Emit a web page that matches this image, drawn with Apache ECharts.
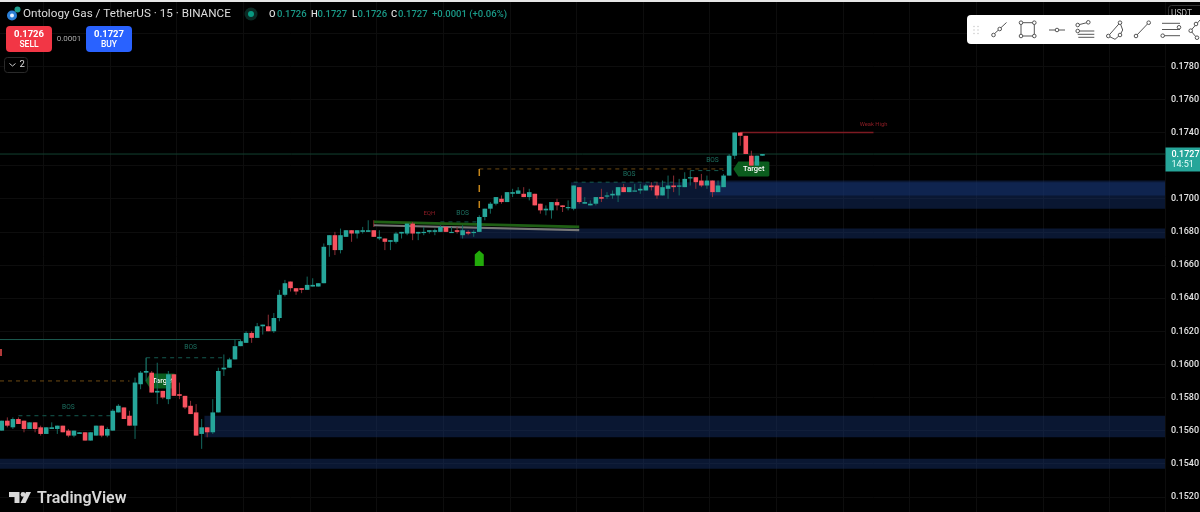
<!DOCTYPE html>
<html>
<head>
<meta charset="utf-8">
<title>OGUSDT 15</title>
<script src="https://cdn.jsdelivr.net/npm/echarts@6/dist/echarts.min.js"></script>
<style>
html,body{margin:0;padding:0;background:#000}
#main{width:1200px;height:512px}
</style>
</head>
<body>
<div id="main"></div>
<script>
// candles (0.0001 tick)
var opens = [
  .1560,.1566,.1562,.1567,.1566,.1561,.1565,.1562,.1558,.1561,
  .1561,.1563,.1560,.1557,.1558,.1559,.1554,.1557,.1563,.1557,
  .1560,.1571,.1574,.1569,.1563,.1588,.1595,.1595,.1583,.1584,
  .1579,.1594,.1582,.1581,.1575,.1571,.1558,.1562,.1559,.1571,
  .1597,.1598,.1603,.1611,.1613,.1619,.1616,.1623,.1623,.1620,
  .1628,.1642,.1650,.1646,.1646,.1645,.1647,.1647,.1649,.1672,
  .1678,.1669,.1677,.1681,.1679,.1680,.1680,.1681,.1676,.1676,
  .1674,.1674,.1679,.1679,.1685,.1679,.1680,.1680,.1680,.1680,
  .1683,.1680,.1681,.1678,.1680,.1680,.1680,.1689,.1694,.1697,
  .1700,.1698,.1703,.1703,.1703,.1701,.1703,.1697,.1693,.1693,
  .1698,.1696,.1695,.1694,.1707,.1697,.1696,.1697,.1701,.1702,
  .1702,.1702,.1707,.1704,.1705,.1705,.1705,.1708,.1708,.1702,
  .1706,.1708,.1708,.1707,.1713,.1713,.1711,.1708,.1711,.1704,
  .1707,.1714,.1726,.1740,.1738,.1726,.1720,.1726
];
var closes = [
  .1566,.1563,.1567,.1564,.1561,.1565,.1561,.1558,.1562,.1562,
  .1563,.1559,.1557,.1560,.1559,.1554,.1559,.1563,.1557,.1561,
  .1572,.1575,.1567,.1563,.1589,.1595,.1596,.1583,.1584,.1580,
  .1594,.1581,.1581,.1574,.1570,.1557,.1562,.1559,.1571,.1596,
  .1598,.1603,.1611,.1614,.1619,.1616,.1623,.1624,.1620,.1628,
  .1642,.1649,.1646,.1644,.1645,.1648,.1648,.1649,.1671,.1678,
  .1669,.1678,.1681,.1679,.1681,.1681,.1681,.1677,.1677,.1674,
  .1675,.1679,.1680,.1685,.1679,.1680,.1680,.1681,.1681,.1683,
  .1680,.1680,.1680,.1681,.1679,.1680,.1689,.1694,.1697,.1701,
  .1698,.1704,.1704,.1705,.1701,.1704,.1696,.1693,.1694,.1698,
  .1696,.1695,.1695,.1708,.1698,.1698,.1697,.1701,.1700,.1702,
  .1703,.1707,.1704,.1707,.1705,.1706,.1708,.1707,.1702,.1707,
  .1708,.1707,.1708,.1712,.1713,.1710,.1708,.1711,.1704,.1708,
  .1714,.1726,.1740,.1738,.1727,.1720,.1726,.1727
];
var highs = [
  .1566,.1568,.1568,.1568,.1566,.1565,.1565,.1563,.1562,.1565,
  .1563,.1563,.1561,.1560,.1559,.1559,.1559,.1563,.1563,.1562,
  .1573,.1576,.1574,.1572,.1592,.1596,.1604,.1596,.1601,.1584,
  .1596,.1594,.1589,.1581,.1578,.1576,.1567,.1562,.1579,.1598,
  .1606,.1604,.1615,.1615,.1620,.1620,.1625,.1624,.1630,.1631,
  .1645,.1651,.1650,.1646,.1646,.1653,.1652,.1649,.1673,.1678,
  .1680,.1682,.1681,.1681,.1681,.1683,.1687,.1681,.1681,.1676,
  .1675,.1680,.1680,.1685,.1686,.1680,.1683,.1681,.1682,.1684,
  .1683,.1683,.1683,.1684,.1681,.1681,.1690,.1694,.1698,.1701,
  .1702,.1704,.1706,.1707,.1707,.1706,.1703,.1697,.1696,.1698,
  .1700,.1696,.1699,.1708,.1707,.1701,.1699,.1701,.1706,.1704,
  .1705,.1707,.1709,.1707,.1709,.1709,.1709,.1710,.1710,.1711,
  .1714,.1714,.1712,.1716,.1717,.1713,.1715,.1714,.1711,.1711,
  .1715,.1727,.1740,.1740,.1738,.1729,.1726,.1727
];
var lows = [
  .1560,.1562,.1561,.1564,.1559,.1561,.1559,.1557,.1558,.1561,
  .1558,.1559,.1556,.1556,.1558,.1554,.1554,.1557,.1556,.1556,
  .1560,.1571,.1567,.1563,.1555,.1585,.1590,.1583,.1576,.1579,
  .1576,.1581,.1579,.1573,.1570,.1557,.1549,.1556,.1558,.1571,
  .1593,.1598,.1603,.1611,.1613,.1613,.1616,.1618,.1620,.1619,
  .1626,.1641,.1644,.1642,.1643,.1645,.1647,.1647,.1649,.1665,
  .1666,.1667,.1677,.1674,.1676,.1679,.1680,.1677,.1675,.1669,
  .1669,.1673,.1676,.1678,.1675,.1675,.1678,.1679,.1678,.1680,
  .1680,.1680,.1679,.1676,.1678,.1677,.1680,.1687,.1691,.1696,
  .1697,.1698,.1701,.1703,.1701,.1699,.1696,.1691,.1690,.1688,
  .1693,.1692,.1693,.1693,.1697,.1697,.1696,.1696,.1698,.1700,
  .1700,.1698,.1704,.1704,.1705,.1703,.1705,.1705,.1700,.1702,
  .1700,.1704,.1702,.1707,.1708,.1706,.1707,.1706,.1701,.1704,
  .1707,.1714,.1724,.1732,.1727,.1720,.1720,.1726
];

// bar slots on the time axis, empty ones run on to the price scale
var barSlots = 210;
var gridEvery = 12, gridFirst = 8;

// supply/demand boxes: first bar, top price, bottom price
var zones = [
  [103, .1710, .1694],
  [128, .1711, .1702],
  [83, .1682, .1676],
  [37, .1569, .1556],
  [0, .1543, .1537]
];

// drawn lines: bar, price, bar, price
var lastPriceLine = [[0, .1727, 209, .1727]];
var tealLevels = [[0, .1615, 43, .1615], [26, .1604, 26, .1596]];
var bosLevels = [
  [3, .1569, 20, .1569], [26, .1604, 40, .1604], [79, .1686, 86, .1686],
  [103, .1710, 121, .1710], [124, .1717, 130, .1717]
];
var orangeLevels = [[0, .1590, 23, .1590], [86, .1718, 130, .1718]];
var orangeRise = [[86, .1718, 86, .1688]];
var weakHighLine = [[133, .1740, 157, .1740], [67, .1687, 67, .1683]];
var trendGreen = [[67, .1686, 104, .1683]];
var trendGrey = [[67, .1684, 104, .1681]];

// small chart notes: bar, price
var bosNotes = [[12, .1574], [34, .1610], [83, .1691], [113, .1715], [128, .1723]];
var eqhNotes = [[77, .1691]];
var weakHighNotes = [[157, .1745]];
var targetNotes = [[28, .1590], [135, .1718]];
var entryArrow = [[86, .1664]];

var categories = [];
for (var i = 0; i < barSlots; i++) categories.push(String(i));
var candleRows = opens.map(function (o, i) {
  return [i, o, closes[i], lows[i], highs[i]];
});

var upColor = '#26a69a', upWick = '#14695f';
var downColor = '#f7525f', downWick = '#8c2e36';

function renderCandle(params, api) {
  var idx = api.value(0), o = api.value(1), c = api.value(2);
  var x = api.coord([idx, o])[0];
  var yO = api.coord([idx, o])[1], yC = api.coord([idx, c])[1];
  var yL = api.coord([idx, api.value(3)])[1], yH = api.coord([idx, api.value(4)])[1];
  var up = c >= o;
  var top = Math.min(yO, yC), h = Math.max(Math.abs(yO - yC), 1.2);
  return {
    type: 'group',
    children: [
      { type: 'line', shape: { x1: x, y1: yH, x2: x, y2: yL },
        style: { stroke: up ? upWick : downWick, lineWidth: 1 } },
      { type: 'rect', shape: { x: x - 2.3, y: top, width: 4.6, height: h },
        style: { fill: up ? upColor : downColor } }
    ]
  };
}

function zoneSeries(rows) {
  return {
    type: 'custom', data: rows, z: 1, silent: true, clip: true,
    encode: { x: 0, y: [1, 2] },
    renderItem: function (params, api) {
      var a = api.coord([api.value(0), api.value(1)]);
      var b = api.coord([api.value(0), api.value(2)]);
      var band = params.coordSys.width / barSlots;
      var left = a[0] - band / 2;
      return { type: 'rect',
        shape: { x: left, y: a[1], width: params.coordSys.x + params.coordSys.width - left, height: b[1] - a[1] },
        style: { fill: 'rgba(24,56,120,0.42)' } };
    }
  };
}

function segSeries(rows, color, width, dash) {
  return {
    type: 'custom', data: rows, z: 2, silent: true, clip: true,
    encode: { x: [0, 2], y: [1, 3] },
    renderItem: function (params, api) {
      var a = api.coord([api.value(0), api.value(1)]);
      var b = api.coord([api.value(2), api.value(3)]);
      var x1 = api.value(0) === 0 ? 0 : a[0];
      var x2 = api.value(2) === barSlots - 1 ? params.coordSys.x + params.coordSys.width : b[0];
      return { type: 'line', shape: { x1: x1, y1: a[1], x2: x2, y2: b[1] },
        style: { stroke: color, lineWidth: width, lineDash: dash || null } };
    }
  };
}

function noteSeries(rows, text, color, size) {
  return {
    type: 'custom', data: rows, z: 2, silent: true, clip: true,
    encode: { x: 0, y: 1 },
    renderItem: function (params, api) {
      var p = api.coord([api.value(0), api.value(1)]);
      return { type: 'text', x: p[0], y: p[1],
        style: { text: text, fill: color, font: size + 'px Roboto', textAlign: 'center', textVerticalAlign: 'middle' } };
    }
  };
}

var targetSeries = {
  type: 'custom', data: targetNotes, z: 3, silent: true, clip: true,
  encode: { x: 0, y: 1 },
  renderItem: function (params, api) {
    var p = api.coord([api.value(0), api.value(1)]);
    var right = params.dataIndex === 1;
    var w = right ? 18 : 15;
    return { type: 'group', x: p[0] + (right ? 0 : 3), y: p[1], children: [
      { type: 'polygon',
        shape: { points: [[-w, 0], [-w + 5, -7.5], [w - 1, -7.5], [w, -6.5], [w, 6.5], [w - 1, 7.5], [-w + 5, 7.5]] },
        style: { fill: '#0b5d1e' } },
      { type: 'text', x: 2.5, y: 0,
        style: { text: 'Target', fill: '#ffffff', font: '500 7.5px Roboto', textAlign: 'center', textVerticalAlign: 'middle' } }
    ] };
  }
};

var arrowSeries = {
  type: 'custom', data: entryArrow, z: 3, silent: true, clip: true,
  encode: { x: 0, y: 1 },
  renderItem: function (params, api) {
    var p = api.coord([api.value(0), api.value(1)]);
    return { type: 'polygon', x: p[0], y: p[1],
      shape: { points: [[0, -8], [4.5, -4], [4.5, 7.5], [-4.5, 7.5], [-4.5, -4]] },
      style: { fill: '#22aa0a' } };
  }
};

var candleSeries = {
  type: 'custom', data: candleRows, z: 5, silent: true, clip: true,
  encode: { x: 0, y: [1, 2, 3, 4] },
  renderItem: renderCandle
};

// header, toolbar, logo: screen furniture around the plot
var FONT = 'Roboto';
function txt(x, y, s, size, color, weight, align) {
  return { type: 'text', x: x, y: y, z: 100,
    style: { text: s, fill: color, font: (weight || 400) + ' ' + size + 'px ' + FONT,
      textAlign: align || 'left', textVerticalAlign: 'middle' } };
}
function box(x, y, w, h, r, fill, stroke) {
  return { type: 'rect', z: 100, shape: { x: x, y: y, width: w, height: h, r: r },
    style: { fill: fill, stroke: stroke || null, lineWidth: 1 } };
}
function stroke(x1, y1, x2, y2) {
  return { type: 'line', z: 101, shape: { x1: x1, y1: y1, x2: x2, y2: y2 }, style: { stroke: '#555', lineWidth: 1 } };
}
function knob(x, y) {
  return { type: 'circle', z: 102, shape: { cx: x, cy: y, r: 1.8 }, style: { fill: '#fff', stroke: '#555', lineWidth: 1 } };
}
function dot(x, y, r, fill) {
  return { type: 'circle', z: 100, shape: { cx: x, cy: y, r: r }, style: { fill: fill } };
}

var furniture = [
  box(0, 0, 1200, 2, 0, '#e6e6e6'),
  // symbol line
  dot(12, 15.5, 5, '#2c7fd6'), dot(12, 15.5, 2, '#e8f2ff'), dot(17.5, 9.5, 3, '#1f9e8e'),
  txt(23, 14.5, 'Ontology Gas / TetherUS · 15 · BINANCE', 11.7, '#dddddd'),
  dot(251, 14, 6.5, '#0a2a24'), dot(251, 14, 3, '#089981'),
  txt(269, 14.5, 'O', 9.5, '#dddddd', 500), txt(277, 14.5, '0.1726', 9.5, '#1a9a88', 500),
  txt(311, 14.5, 'H', 9.5, '#dddddd', 500), txt(317.5, 14.5, '0.1727', 9.5, '#1a9a88', 500),
  txt(352, 14.5, 'L', 9.5, '#dddddd', 500), txt(357.5, 14.5, '0.1726', 9.5, '#1a9a88', 500),
  txt(391, 14.5, 'C', 9.5, '#dddddd', 500), txt(398, 14.5, '0.1727', 9.5, '#1a9a88', 500),
  txt(432, 14.5, '+0.0001 (+0.06%)', 9.5, '#1a9a88', 500),
  // buy and sell
  box(6, 26, 46, 26, 4, '#f23645'),
  txt(29, 34.5, '0.1726', 9.5, '#ffffff', 700, 'center'), txt(29, 44.8, 'SELL', 8.5, '#ffffff', 500, 'center'),
  txt(69, 38.5, '0.0001', 8, '#aaaaaa', 400, 'center'),
  box(86, 26, 46, 26, 4, '#2962ff'),
  txt(109, 34.5, '0.1727', 9.5, '#ffffff', 700, 'center'), txt(109, 44.8, 'BUY', 8.5, '#ffffff', 500, 'center'),
  box(4.5, 57.5, 23, 15, 3, '#000', '#2a2a2a'),
  { type: 'polyline', z: 101, shape: { points: [[9.5, 63.5], [12.5, 66], [15.5, 63.5]] }, style: { stroke: '#ccc', fill: null, lineWidth: 1 } },
  txt(19.5, 65, '2', 9.5, '#dddddd'),
  // last price tag
  box(1165.5, 147.5, 34.5, 24, 0, '#26a69a'),
  txt(1171.5, 154.5, '0.1727', 9, '#ffffff', 500), txt(1171.5, 165, '14:51', 9, '#e6fffb', 400),
  // currency button sits behind the toolbar
  box(1168.5, 5.5, 40, 24, 3, '#000', '#333'),
  txt(1171, 13.5, 'USDT', 8.5, '#b8b8b8'),
  // logo
  { type: 'polygon', z: 100, shape: { points: [[9, 492], [19.5, 492], [19.5, 503], [14.5, 503], [14.5, 497], [9, 497]] }, style: { fill: '#d8d8d8' } },
  dot(23, 494.4, 2.4, '#d8d8d8'),
  { type: 'polygon', z: 100, shape: { points: [[26, 492], [31, 492], [25.5, 503], [20.5, 503]] }, style: { fill: '#d8d8d8' } },
  txt(37, 498.5, 'TradingView', 16, '#d8d8d8', 600),
  { type: 'rect', z: 100, shape: { x: 0, y: 349, width: 2, height: 7 }, style: { fill: '#b23a3a' } },
  // toolbar
  box(967, 15, 240, 29, 4, '#ffffff'),
  stroke(992, 36, 1006.5, 22.5), knob(993.5, 35), knob(999.7, 29),
  stroke(1021, 22.7, 1034.3, 22.7), stroke(1021, 36, 1034.3, 36), stroke(1021, 22.7, 1021, 36), stroke(1034.3, 22.7, 1034.3, 36),
  knob(1021, 22.7), knob(1034.3, 22.7), knob(1021, 36), knob(1034.3, 36),
  stroke(1049, 30, 1065, 30), knob(1057, 30),
  stroke(1077.7, 25, 1088.3, 22.3), stroke(1077.7, 31, 1094.3, 31), stroke(1077.7, 34.3, 1094.3, 34.3), stroke(1078.3, 37.3, 1094.3, 37.3),
  knob(1077.7, 25), knob(1088.3, 22.3), knob(1077.7, 31),
  stroke(1108.3, 36, 1120, 22.7), stroke(1120, 22.7, 1122.7, 30), stroke(1122.7, 30, 1120, 35),
  stroke(1108.3, 36, 1115, 39.3), stroke(1115, 39.3, 1120, 35),
  knob(1120, 22.7), knob(1108.3, 36), knob(1120, 35),
  stroke(1136, 36, 1148.7, 22.7), knob(1136, 36), knob(1148.7, 22.7),
  stroke(1162, 23.3, 1180, 23.3), stroke(1162, 29.5, 1180, 29.5), stroke(1162, 35.7, 1180, 35.7),
  knob(1179, 27.3), knob(1162.7, 35.7),
  stroke(1190.7, 30.7, 1200, 20), stroke(1190.7, 30.7, 1196.7, 37.7), knob(1190.7, 30.7), knob(1197, 37.7), knob(1196, 24)
];
[[974, 26.5], [978, 26.5], [974, 30], [978, 30], [974, 33.5], [978, 33.5]].forEach(function (p) {
  furniture.push({ type: 'circle', z: 101, shape: { cx: p[0], cy: p[1], r: 0.8 }, style: { fill: '#cfcfcf' } });
});

var chart = echarts.init(document.getElementById('main'));
chart.setOption({
  backgroundColor: '#000000',
  animation: false,
  grid: { left: -1, width: 1166, top: 0, height: 530, containLabel: false, outerBoundsMode: 'none' },
  xAxis: {
    type: 'category', data: categories, boundaryGap: true,
    axisLine: { show: false }, axisTick: { show: false }, axisLabel: { show: false },
    splitLine: {
      show: true,
      interval: function (i) { return (i - gridFirst) % gridEvery === 0; },
      lineStyle: { color: '#0d0d0d', width: 1 }
    }
  },
  yAxis: {
    type: 'value', position: 'right', min: 0.15, max: 0.182, interval: 0.002,
    axisLine: { show: false }, axisTick: { show: false },
    axisLabel: {
      color: '#e4e4e4', fontFamily: FONT, fontWeight: 500, fontSize: 9, margin: 6, align: 'left',
      formatter: function (v) { return v >= 0.1815 ? '' : v.toFixed(4); }
    },
    splitLine: { show: true, lineStyle: { color: '#0d0d0d', width: 1 } }
  },
  graphic: furniture,
  series: [
    zoneSeries(zones),
    segSeries(lastPriceLine, '#12402f', 1),
    segSeries(tealLevels, '#1c5a50', 1),
    segSeries(bosLevels, '#145a50', 1, [4, 4]),
    segSeries(orangeLevels, '#6d4a12', 1, [4, 4]),
    segSeries(orangeRise, '#c5851a', 1.5, [7, 9]),
    segSeries(weakHighLine, '#7d1a22', 1.3),
    segSeries(trendGreen, '#1f5f14', 2.8),
    segSeries(trendGrey, '#777777', 2.2),
    noteSeries(bosNotes, 'BOS', '#1d7263', 6.6),
    noteSeries(eqhNotes, 'EQH', '#8b1c24', 6),
    noteSeries(weakHighNotes, 'Weak High', '#8b1c24', 5.8),
    targetSeries,
    arrowSeries,
    candleSeries
  ]
});
</script>
</body>
</html>
